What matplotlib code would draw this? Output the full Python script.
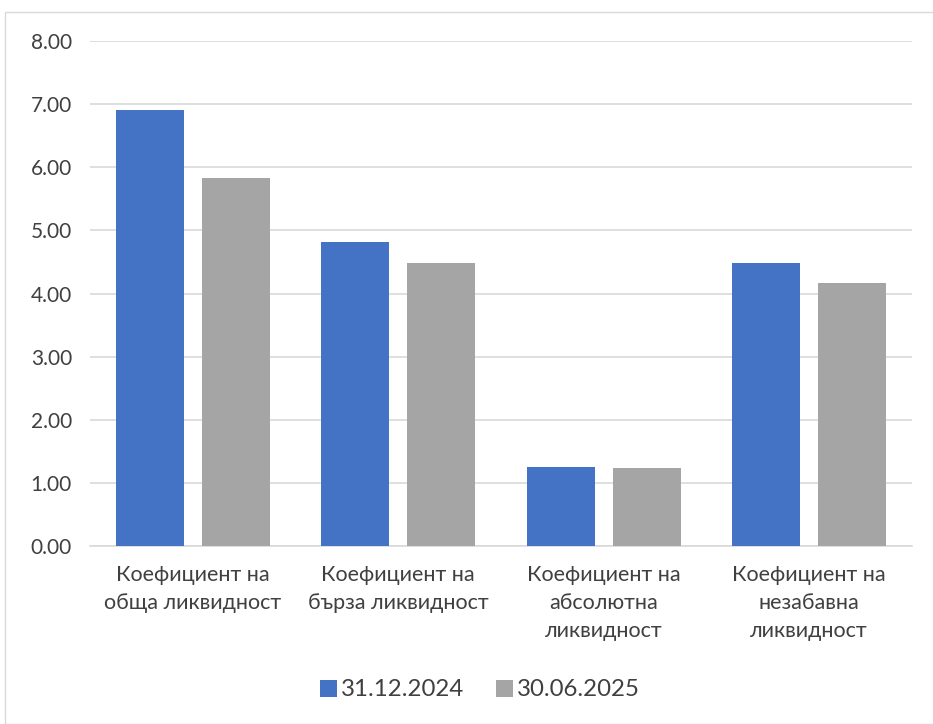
import numpy as np
import matplotlib
matplotlib.use("Agg")
import matplotlib.pyplot as plt
from matplotlib.patches import Rectangle

categories = ["Коефициент на\nобща ликвидност",
              "Коефициент на\nбърза ликвидност",
              "Коефициент на\nабсолютна\nликвидност",
              "Коефициент на\nнезабавна\nликвидност"]
series_names = ["31.12.2024", "30.06.2025"]
values_2024 = [6.90, 4.81, 1.25, 4.49]
values_2025 = [5.83, 4.48, 1.24, 4.17]
yticks = [0, 1, 2, 3, 4, 5, 6, 7, 8]

blue = "#4472C4"
gray = "#A5A5A5"
text_col = "#404040"

plt.rcParams["font.family"] = ["Lato", "DejaVu Sans"]

fig = plt.figure(figsize=(9.33, 7.24), dpi=100)
ax = fig.add_axes([90 / 933, 1 - 546 / 724, 822 / 933, 505 / 724])

# outer chart frame
fig.patches.append(Rectangle((5 / 933, 0), 1, 1 - 12 / 724, transform=fig.transFigure,
                             fill=False, edgecolor="#D9D9D9", linewidth=1))

x = np.arange(len(categories))
w = 0.33
gap = 0.088
ax.bar(x - (w + gap) / 2, values_2024, w, color=blue, label=series_names[0], zorder=3)
ax.bar(x + (w + gap) / 2, values_2025, w, color=gray, label=series_names[1], zorder=3)

ax.set_xlim(-0.5, len(categories) - 0.5)
ax.set_ylim(0, 8)
ax.set_yticks(yticks)
ax.set_yticklabels([f"{v:.2f}" for v in yticks], fontsize=15, color=text_col)
ax.yaxis.grid(True, color="#D9D9D9", linewidth=1.2, zorder=0)
ax.tick_params(axis="y", length=0, pad=13)
ax.tick_params(axis="x", length=0, pad=14)
ax.set_xticks(x)
ax.set_xticklabels(categories, fontsize=15.5, color=text_col, linespacing=1.5)
for s in ["top", "right", "left"]:
    ax.spines[s].set_visible(False)
ax.spines["bottom"].set_color("#D9D9D9")
ax.spines["bottom"].set_linewidth(1.2)

fig.legend(loc="center", bbox_to_anchor=(480 / 933, 1 - 690 / 724), ncol=2, frameon=False,
           fontsize=17.3, handlelength=0.7, handleheight=0.7, columnspacing=1.3,
           handletextpad=0.2, labelcolor=text_col)

fig.savefig("out.png", dpi=100, facecolor="white")
